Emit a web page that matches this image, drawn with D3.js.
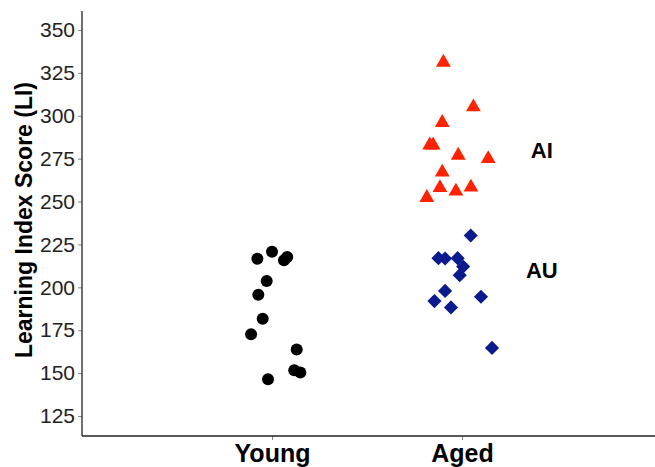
<!DOCTYPE html>
<html>
  <head>
    <style>
    body {
      font-family: "Liberation Sans", Arial, sans-serif;
      margin: 0;
      background: #fff;
    }
    </style>
  </head>
  <body>
    <script src="https://cdn.jsdelivr.net/npm/d3@7"></script>
    <script>

// groups on the x axis
var groups = ["Young", "Aged"];
var yTicks = [125, 150, 175, 200, 225, 250, 275, 300, 325, 350];

// young rats: jitter offset from the category centre, score
var youngJitter = [-0.077, 0, 0.063, 0.08, -0.028, -0.072, -0.049, -0.11, 0.13, 0.117, 0.149, -0.021];
var youngScore  = [216.6, 220.7, 215.8, 217.7, 203.7, 195.7, 181.7, 172.7, 163.7, 151.7, 150.3, 146.4];

// aged impaired (AI)
var aiJitter = [-0.098, 0.06, -0.104, -0.17, -0.152, -0.02, 0.138, -0.104, -0.116, -0.032, 0.047, -0.185];
var aiScore  = [331.1, 305.1, 296, 282.9, 282.9, 276.9, 274.9, 267.1, 258, 256, 258.3, 252.3];

// aged unimpaired (AU)
var auJitter = [0.046, -0.124, -0.089, -0.023, 0.006, -0.012, -0.089, -0.145, -0.058, 0.1, 0.158];
var auScore  = [230.2, 217, 216.8, 217, 212.1, 207.1, 197.9, 192, 188.3, 194.5, 164.7];

var subLabels = ["AI", "AU"];
var subLabelY = [280, 210];

var width = 655, height = 467;

var svg = d3.select("body").append("svg")
    .attr("width", width)
    .attr("height", height);

var x = d3.scaleLinear().domain([0, 3]).range([82, 652]);
var y = d3.scaleLinear().domain([125, 350]).range([416, 30]);

var yTop = y.invert(11), yBottom = y.invert(436);

// y axis
var yAxis = svg.append("g")
    .attr("transform", "translate(82,0)")
    .call(d3.axisLeft(y).tickValues(yTicks).tickSize(4).tickPadding(3));
yAxis.select(".domain").remove();
yAxis.selectAll(".tick line").attr("stroke", "#888").attr("stroke-width", 1);
yAxis.selectAll(".tick text")
    .style("font-family", "Liberation Sans, Arial, sans-serif")
    .style("font-size", "21px")
    .attr("fill", "#222");

// x axis
var xAxis = svg.append("g")
    .attr("transform", "translate(0,436)")
    .call(d3.axisBottom(x).tickValues([1, 2]).tickSize(4).tickPadding(4)
        .tickFormat(function(d){ return groups[d - 1]; }));
xAxis.select(".domain").remove();
xAxis.selectAll(".tick line").attr("stroke", "#888");
xAxis.selectAll(".tick text")
    .style("font-family", "Liberation Sans, Arial, sans-serif")
    .style("font-size", "25px")
    .style("font-weight", "bold")
    .attr("fill", "#000");

// axis lines
svg.append("line")
    .attr("x1", 82).attr("x2", 82)
    .attr("y1", y(yTop)).attr("y2", y(yBottom))
    .attr("stroke", "#222").attr("stroke-width", 1.3);
svg.append("line")
    .attr("x1", 82).attr("x2", width)
    .attr("y1", y(yBottom)).attr("y2", y(yBottom))
    .attr("stroke", "#222").attr("stroke-width", 1.3);

// y title
svg.append("text")
    .attr("transform", "translate(32,220) rotate(-90)")
    .attr("text-anchor", "middle")
    .style("font-size", "23px")
    .style("font-weight", "bold")
    .text("Learning Index Score (LI)");

// points
svg.selectAll(".young")
    .data(youngScore)
  .enter().append("circle")
    .attr("class", "young")
    .attr("cx", function(d, i){ return x(1 + youngJitter[i]); })
    .attr("cy", function(d){ return y(d); })
    .attr("r", 6)
    .style("fill", "#000");

var tri = d3.symbol().type(d3.symbolTriangle).size(95);
svg.selectAll(".ai")
    .data(aiScore)
  .enter().append("path")
    .attr("class", "ai")
    .attr("d", tri)
    .attr("transform", function(d, i){ return "translate(" + x(2 + aiJitter[i]) + "," + y(d) + ")"; })
    .style("fill", "#ff2200");

var dia = d3.symbol().type(d3.symbolSquare).size(100);
svg.selectAll(".au")
    .data(auScore)
  .enter().append("path")
    .attr("class", "au")
    .attr("d", dia)
    .attr("transform", function(d, i){ return "translate(" + x(2 + auJitter[i]) + "," + y(d) + ") rotate(45)"; })
    .style("fill", "#0b1a8c");

// AI / AU labels
svg.selectAll(".sub")
    .data(subLabels)
  .enter().append("text")
    .attr("class", "sub")
    .attr("x", x(2.42))
    .attr("y", function(d, i){ return y(subLabelY[i]) + 8; })
    .attr("text-anchor", "middle")
    .style("font-size", "22px")
    .style("font-weight", "bold")
    .text(function(d){ return d; });

    </script>
  </body>
</html>
